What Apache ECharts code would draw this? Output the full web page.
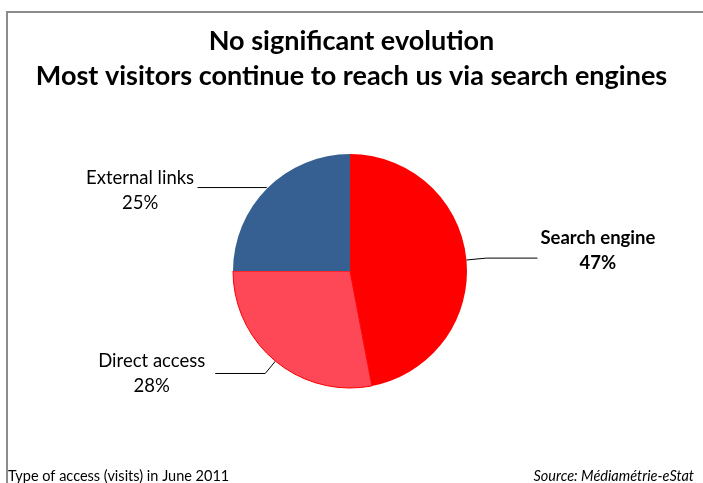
<!DOCTYPE html>
<html><head><meta charset="utf-8">
<script src="https://cdn.jsdelivr.net/npm/echarts@6/dist/echarts.min.js"></script>
<style>html,body{margin:0;padding:0;background:#fff}#c{width:703px;height:483px}</style>
</head><body><div id="c"></div>
<script>
const categories = ['Search engine', 'Direct access', 'External links'];
const shares = [47, 28, 25];
const titleLines = ['No significant evolution', 'Most visitors continue to reach us via search engines'];
const footLeft = 'Type of access (visits) in June 2011';
const footRight = 'Source: Médiamétrie-eStat';

const colors = ['#ff0000', '#fe4757', '#376092'];
const FONT = 'Lato';
const LABEL_SIZE = 18.5;
const perItem = [
  { line: { length: 20, length2: 51 }, label: { fontWeight: 'bold', padding: [0, 0, 16, 0], distanceToLabelLine: 3 } },
  { line: { length: 16, length2: 50 }, label: { fontWeight: 'normal', distanceToLabelLine: 10 } },
  { line: { length: 1, length2: 69 }, label: { fontWeight: 'normal', padding: [6, 0, 0, 0], distanceToLabelLine: 3 } }
];

const cv = document.createElement('canvas').getContext('2d');
function textW(s, weight) { cv.font = weight + ' ' + LABEL_SIZE + 'px ' + FONT; return cv.measureText(s).width; }

const data = categories.map((name, i) => {
  const p = perItem[i];
  const w = Math.ceil(Math.max(textW(name, p.label.fontWeight), textW(shares[i] + '%', p.label.fontWeight)));
  return {
    name: name,
    value: shares[i],
    itemStyle: i === 1 ? { color: colors[i], borderColor: '#ff0000', borderWidth: 1 } : { color: colors[i], borderWidth: 0 },
    labelLine: Object.assign({ show: true, lineStyle: { color: '#000', width: 1 } }, p.line),
    label: {
      padding: p.label.padding || 0,
      distanceToLabelLine: p.label.distanceToLabelLine,
      rich: { n: { width: w, align: 'center', fontFamily: FONT, fontSize: LABEL_SIZE, fontWeight: p.label.fontWeight, color: '#000', lineHeight: 25 } }
    }
  };
});

const chart = echarts.init(document.getElementById('c'), null, { renderer: 'canvas' });
chart.setOption({
  animation: false,
  backgroundColor: '#fff',
  title: {
    text: titleLines.join('\n'),
    left: 'center',
    top: 24,
    padding: 0,
    textStyle: { fontFamily: FONT, fontSize: 27, fontWeight: 'bold', color: '#000', lineHeight: 35 }
  },
  graphic: [
    { type: 'rect', shape: { x: 7, y: 12, width: 760, height: 520 }, style: { fill: null, stroke: '#8c8c8c', lineWidth: 2 }, silent: true },
    { type: 'text', left: 8, top: 469, style: { text: footLeft, font: '14.5px ' + FONT, fill: '#000' } },
    { type: 'text', right: 9, top: 469, style: { text: footRight, font: 'italic 14.5px ' + FONT, fill: '#000' } }
  ],
  series: [{
    type: 'pie',
    center: [350, 271],
    radius: 117,
    startAngle: 90,
    clockwise: true,
    avoidLabelOverlap: false,
    label: {
      show: true,
      position: 'outside',
      formatter: (p) => '{n|' + p.name + '}\n{n|' + p.value + '%}'
    },
    emphasis: { disabled: true },
    data: data
  }]
});
</script>
</body></html>
